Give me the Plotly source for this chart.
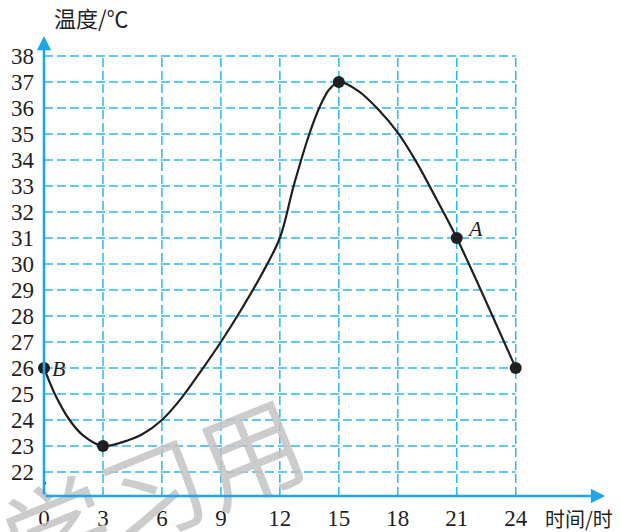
import plotly.graph_objects as go

# ---- data ----
x_ticks = [0, 3, 6, 9, 12, 15, 18, 21, 24]
y_ticks = list(range(22, 39))

# curve
curve_hours = [0, 0.55, 1.3, 2, 3, 4, 5, 6, 7, 8, 9, 10, 11, 12, 12.7, 13.5, 14, 14.5, 15,
               16, 17, 18, 19, 20, 21, 24]
curve_temps = [26, 25, 24, 23.4, 23, 23.15, 23.45, 24, 24.85, 25.9, 27, 28.2, 29.5, 31, 33, 35, 36, 36.7, 37,
               36.65, 35.95, 35.05, 33.85, 32.45, 31, 26]

# highlighted points
point_hours = [0, 3, 15, 21, 24]
point_temps = [26, 23, 37, 31, 26]
point_labels = ["B", "", "", "A", ""]

x_title = "时间/时"
y_title = "温度/℃"

# ---- styling ----
BLUE = "#1ea7e4"
GRID = "#2bb7ef"
INK = "#1f1f1f"
X_MIN, X_MAX = 0, 29
Y_MIN, Y_MAX = 21.077, 39

fig = go.Figure()

# grid (dashed, limited to the 0-24 / 22-38 box)
for xv in x_ticks[1:]:
    fig.add_shape(type="line", xref="x", yref="y", x0=xv, x1=xv, y0=Y_MIN, y1=max(y_ticks),
                  line=dict(color=GRID, width=1.5, dash="9px,4px"), layer="below")
for yv in y_ticks:
    fig.add_shape(type="line", xref="x", yref="y", x0=0, x1=max(x_ticks), y0=yv, y1=yv,
                  line=dict(color=GRID, width=1.5, dash="9px,4px"), layer="below")

# watermark
fig.add_annotation(xref="paper", yref="paper", x=0.19, y=0.02, xanchor="center", yanchor="middle",
                   text="学习用", showarrow=False, textangle=-22,
                   font=dict(family="Noto Sans CJK SC", size=104, color="rgba(195,195,195,0.85)"))

fig.add_trace(go.Scatter(x=curve_hours, y=curve_temps, mode="lines",
                         line=dict(color=INK, width=2.2, shape="spline", smoothing=0.9),
                         hoverinfo="skip", showlegend=False, cliponaxis=False))
fig.add_trace(go.Scatter(x=point_hours, y=point_temps, mode="markers",
                         marker=dict(color=INK, size=12),
                         showlegend=False, cliponaxis=False))

# point labels
offsets = {"B": (14, 0), "A": (18, 10)}
for xh, yt, lab in zip(point_hours, point_temps, point_labels):
    if lab:
        dx, dy = offsets[lab]
        fig.add_annotation(x=xh, y=yt, text=f"<i>{lab}</i>", showarrow=False,
                           xshift=dx, yshift=dy,
                           font=dict(family="Liberation Serif", size=22, color=INK))

# axes with arrows
fig.add_annotation(x=28.55, y=Y_MIN, ax=0, ay=Y_MIN, xref="x", yref="y", axref="x", ayref="y",
                   showarrow=True, arrowhead=2, arrowsize=1.1, arrowwidth=2.6,
                   arrowcolor=BLUE, text="")
fig.add_annotation(x=0, y=38.77, ax=0, ay=Y_MIN, xref="x", yref="y", axref="x", ayref="y",
                   showarrow=True, arrowhead=2, arrowsize=1.1, arrowwidth=2.6,
                   arrowcolor=BLUE, text="")

# axis break squiggle
fig.add_shape(type="path", xref="x", yref="y",
              path="M 0,21.62 C 0.25,21.55 -0.25,21.45 0,21.38",
              line=dict(color=INK, width=1.3))

# axis titles
fig.add_annotation(xref="paper", yref="paper", x=0.014, y=1.0, xanchor="left", yanchor="bottom",
                   text=y_title, showarrow=False, yshift=-5,
                   font=dict(family="Noto Sans CJK SC", size=22, color=INK))
fig.add_annotation(xref="paper", yref="paper", x=1.0, y=0, xanchor="right", yanchor="top",
                   text=x_title, showarrow=False, yshift=-6, xshift=1,
                   font=dict(family="Noto Sans CJK SC", size=20, color=INK))

fig.update_layout(
    template="none",
    width=622, height=532,
    margin=dict(l=44, r=8, t=30, b=36, autoexpand=False),
    paper_bgcolor="white", plot_bgcolor="rgba(0,0,0,0)",
    xaxis=dict(range=[X_MIN, X_MAX], showgrid=False, zeroline=False, showline=False,
               automargin=False,
               tickvals=x_ticks, ticktext=[str(v) for v in x_ticks], ticks="",
               ticklabelstandoff=6,
               tickfont=dict(family="Liberation Serif", size=23, color=INK)),
    yaxis=dict(range=[Y_MIN, Y_MAX], showgrid=False, zeroline=False, showline=False,
               automargin=False,
               tickvals=y_ticks, ticktext=[str(v) for v in y_ticks], ticks="",
               ticklabelstandoff=9,
               tickfont=dict(family="Liberation Serif", size=23, color=INK)),
    showlegend=False,
)

fig.write_html("out.html", config={"displayModeBar": False},
               post_script="document.body.style.margin='0';document.body.style.overflow='hidden';")
